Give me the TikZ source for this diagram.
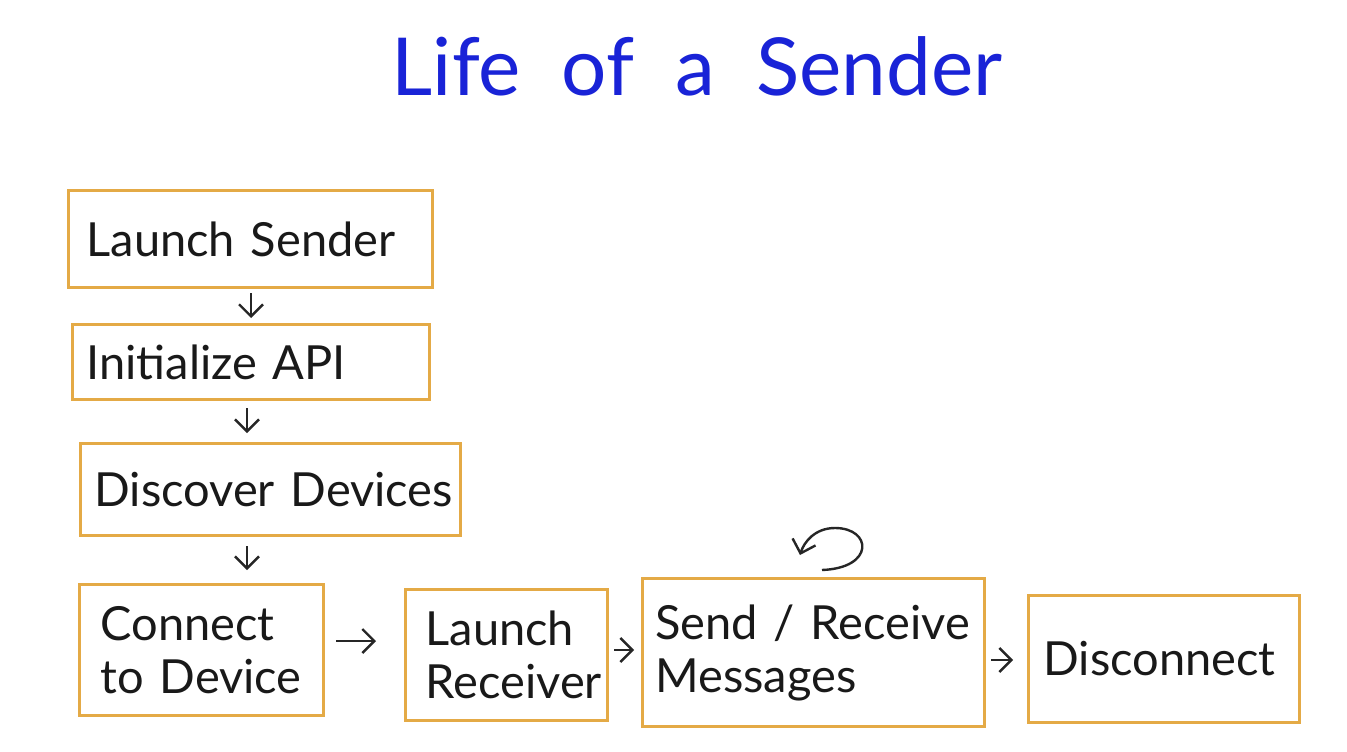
\documentclass[tikz,border=0pt]{standalone}
\usepackage{fontspec}
\setmainfont{Lato}
\usetikzlibrary{arrows.meta}
\definecolor{boxc}{RGB}{228,170,70}
\definecolor{titlec}{RGB}{25,35,215}
\begin{document}
\begin{tikzpicture}[x=1pt,y=-1pt,
  box/.style={draw=boxc, line width=3pt, anchor=north west, align=left, inner ysep=0pt,
     font=\fontsize{47}{53}\selectfont, text=black!90},
  arr/.style={line width=2.4pt, black!85, -{Straight Barb[length=12pt,width=24pt]}}
]
\useasboundingbox (0,0) rectangle (1347,752);
\fill[white] (0,0) rectangle (1347,752);
\node[font=\fontsize{80}{90}\selectfont, text=titlec] (title) at (697,66) {Life \ of \ a \ Sender};

\node[box, minimum height=97pt, inner xsep=18pt, text width=328pt] (ls) at (67,189) {\mbox{Launch Sender}};
\node[box, minimum height=75pt, inner xsep=14pt, text width=329pt] (ia) at (71,323) {\mbox{Initialize API}};
\node[box, minimum height=92pt, inner xsep=14pt, text width=352pt] (dd) at (79,442) {\mbox{Discover Devices}};
\node[box, minimum height=131pt, inner xsep=21pt, text width=202pt] (cd) at (78,583) {Connect\\\mbox{to Device}};
\node[box, minimum height=131pt, inner xsep=20pt, text width=162pt] (lr) at (404,588) {Launch\\Receiver};
\node[box, minimum height=148pt, inner xsep=13pt, text width=316pt] (sr) at (641,577) {\mbox{Send / Receive}\\Messages};
\node[box, minimum height=127pt, inner xsep=15pt, text width=241pt] (dc) at (1027,594) {Disconnect};

\coordinate (x1) at (251,0);
\coordinate (x2) at (247,0);
\coordinate (y4) at (0,641);
\coordinate (y5) at (0,650);
\coordinate (y6) at (0,660);
\draw[arr, shorten <=4pt, shorten >=5pt] (ls.south -| x1) -- (ia.north -| x1);
\draw[arr, shorten <=7pt, shorten >=9pt] (ia.south -| x2) -- (dd.north -| x2);
\draw[arr, shorten <=9pt, shorten >=13pt] (dd.south -| x2) -- (cd.north -| x2);
\draw[arr, shorten <=11pt, shorten >=28pt] (cd.east |- y4) -- (lr.west |- y4);
\draw[arr, shorten <=5pt, shorten >=7pt] (lr.east |- y5) -- (sr.west |- y5);
\draw[arr, shorten <=5pt, shorten >=14pt] (sr.east |- y6) -- (dc.west |- y6);

\coordinate (lp1) at (822,570);
\coordinate (lp2) at (800,555);
\draw[arr] (lp1) .. controls (875,568) and (872,528) .. (835,528) .. controls (815,528) and (804,542) .. (lp2);
\end{tikzpicture}
\end{document}
